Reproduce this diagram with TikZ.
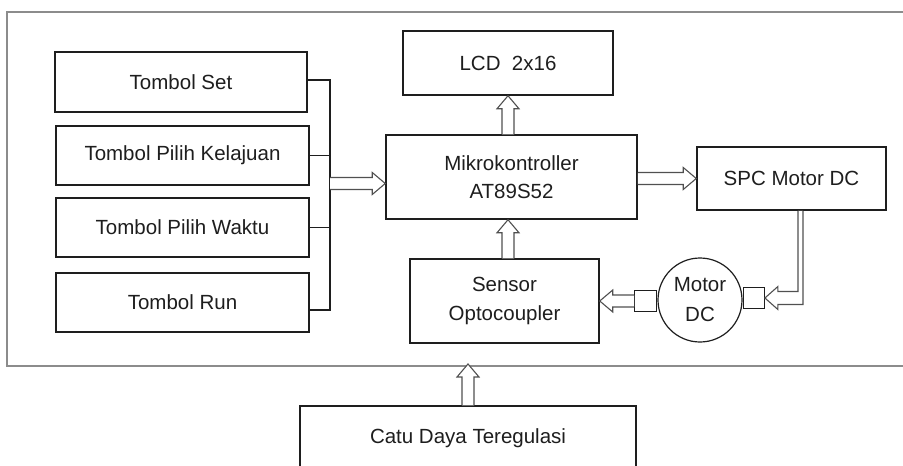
\documentclass[tikz,border=0pt]{standalone}
\usepackage{fontspec}
\setmainfont{Liberation Sans}
\usetikzlibrary{calc}
\definecolor{ink}{HTML}{1E1E1E}
\definecolor{arrowgray}{HTML}{505050}
\definecolor{framegray}{HTML}{8C8C8C}
\tikzset{
  box/.style={draw=ink, line width=1.5pt, fill=white, inner sep=0pt, text=ink,
    font=\fontsize{20.5}{28.5}\selectfont, align=center},
  wire/.style={draw=ink, line width=1.5pt},
  framebox/.style={draw=framegray, line width=1.4pt},
  % hollow block arrow drawn as an outline from start to target
  blockarrow/.style={draw=arrowgray, line width=1.1pt, fill=white, line join=miter,
    to path={let \p1=(\tikztostart), \p2=(\tikztotarget),
      \n1={atan2(\y2-\y1,\x2-\x1)}, \n2={veclen(\x2-\x1,\y2-\y1)} in
      {[shift={(\p1)}, rotate=\n1]
        (0,-6) -- (\n2-13,-6) -- (\n2-13,-11) -- (\n2,0) -- (\n2-13,11) -- (\n2-13,6) -- (0,6)}}},
  bentarrow/.style={draw=arrowgray, line width=1.1pt, fill=white, line join=miter}
}
\begin{document}
\begin{tikzpicture}[x=1pt,y=-1pt]
  \fill[white] (0,0) rectangle (903,466);
  \clip (0,0) rectangle (903,466);

  % enclosing frame of the controller board
  \draw[framebox] (910,12) -- (7,12) -- (7,366) -- (910,366);

  % input buttons
  \node[box, minimum width=252pt, minimum height=60pt] (set) at (181,82) {Tombol Set};
  \node[box, minimum width=253pt, minimum height=59pt] (kel) at (182.5,155.5) {Tombol Pilih Kelajuan};
  \node[box, minimum width=253pt, minimum height=59pt] (wak) at (182.5,227.5) {Tombol Pilih Waktu};
  \node[box, minimum width=253pt, minimum height=59pt] (run) at (182.5,302.5) {Tombol Run};

  % main blocks
  \node[box, minimum width=251pt, minimum height=84pt] (mcu) at (511.5,177) {Mikrokontroller\\AT89S52};
  \node[box, minimum width=210pt, minimum height=64pt] (lcd) at (508,63) {LCD~~2x16};
  \node[box, minimum width=189pt, minimum height=63pt] (spc) at (791.5,178.5) {SPC Motor DC};
  \node[box, minimum width=189pt, minimum height=84pt] (sensor) at (504.5,301) {Sensor\\Optocoupler};
  \node[box, minimum width=336pt, minimum height=64pt] (catu) at (468,438) {Catu Daya Teregulasi};

  % motor with its two shaft couplings
  \node[circle, draw=ink, line width=1.2pt, fill=white, minimum size=84pt, inner sep=0pt,
        text=ink, align=center, font=\fontsize{20.5}{30}\selectfont] (motor) at (700,300) {Motor\\DC};
  \node[box, line width=1.3pt, minimum width=22pt, minimum height=21pt, anchor=east] (lsq) at ([yshift=-1pt]motor.west) {};
  \node[box, line width=1.3pt, minimum width=21pt, minimum height=21pt, anchor=west] (rsq) at ([yshift=2pt]motor.east) {};

  % button bus
  \coordinate (bustop) at (330,80);
  \coordinate (busbot) at (330,310);
  \coordinate (busout) at (330,183.5);
  \draw[wire] ([yshift=2pt]set.east) -- (bustop) -- (busbot) -- ([yshift=-7.5pt]run.east);
  \draw[wire] (kel.east) -- (kel.east -| bustop);
  \draw[wire] (wak.east) -- (wak.east -| bustop);

  % data arrows
  \draw[blockarrow] (busout) to (mcu.west |- busout);
  \draw[blockarrow] (mcu.east |- spc.west) to (spc.west);
  \draw[blockarrow] (lcd.south |- mcu.north) to (lcd.south);
  \draw[blockarrow] (lcd.south |- sensor.north) to (lcd.south |- mcu.south);
  \draw[blockarrow] (lsq.west) to (sensor.east |- lsq.west);
  \coordinate (framebot) at (468,364);
  \draw[blockarrow] (catu.north) to (catu.north |- framebot);

  % driver output bent down into the motor coupling
  \draw[bentarrow] ($(spc.south)+(6.5,0)$) |- ($(rsq.east)+(13,-6.5)$) -- ++(0,-5)
    -- (rsq.east) -- ++(13,11.5) -- ++(0,-5) -| ($(spc.south)+(11.5,0)$);
\end{tikzpicture}
\end{document}
